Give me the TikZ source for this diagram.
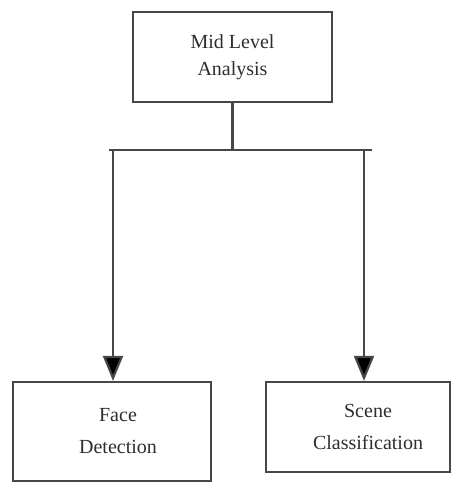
\documentclass[tikz,border=0pt]{standalone}
\usepackage{fontspec}
\setmainfont{Liberation Serif}
\usetikzlibrary{arrows.meta}
\definecolor{edgegray}{HTML}{474747}
\definecolor{txtgray}{HTML}{2E2E2E}
\begin{document}
\begin{tikzpicture}[x=1pt,y=1pt,
  block/.style={draw=edgegray, line width=2.2pt, fill=white, align=center,
    text=txtgray, font=\fontsize{20}{32}\selectfont, inner sep=0pt},
  link/.style={draw=edgegray, line width=2.2pt},
  flow/.style={link, -{Triangle[length=25pt,width=20pt,fill=black]}}]
  \useasboundingbox (0,0) rectangle (456,483);
  % boxes
  \node[block, minimum width=199pt, minimum height=90pt] (top) at (232.5,426)
    {Mid Level\\[-5pt]Analysis};
  \node[block, minimum width=198pt, minimum height=99pt] (face) at (112,51.5)
    {\hspace*{12pt}Face\\\hspace*{12pt}Detection};
  \node[block, minimum width=184pt, minimum height=90pt] (scene) at (358,56)
    {\hspace*{20pt}Scene\\\hspace*{20pt}Classification};
  % distribution bar
  \coordinate (barL) at (109,333);
  \coordinate (barR) at (372,333);
  \coordinate (aL) at (113,333);
  \coordinate (aR) at (364,333);
  \draw[link] (top.south) -- (top.south |- barL);
  \draw[link] (barL) -- (barR);
  \draw[flow] (aL) -- (aL |- face.north);
  \draw[flow] (aR) -- (aR |- scene.north);
\end{tikzpicture}
\end{document}
